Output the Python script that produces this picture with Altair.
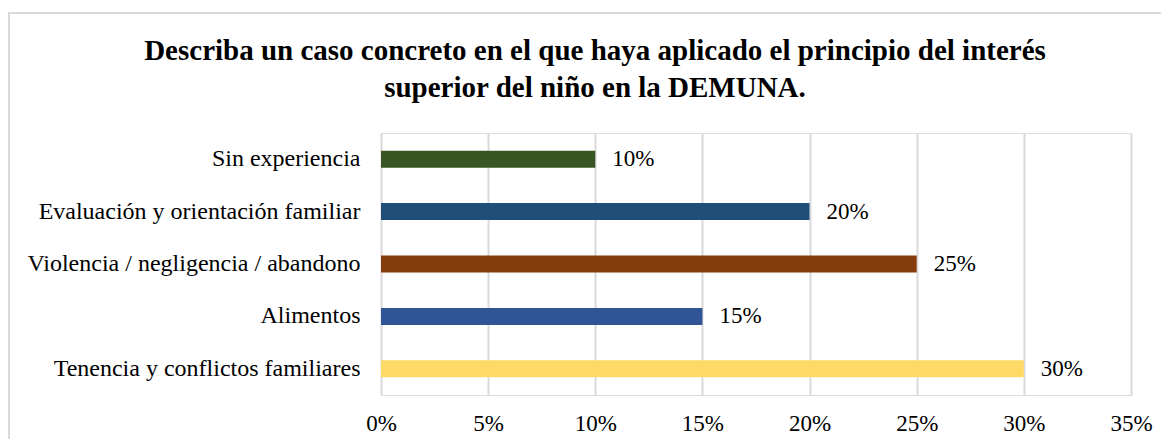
import altair as alt
import pandas as pd

categories = [
    "Sin experiencia",
    "Evaluación y orientación familiar",
    "Violencia / negligencia / abandono",
    "Alimentos",
    "Tenencia y conflictos familiares",
]
values = [0.10, 0.20, 0.25, 0.15, 0.30]
colors = ["#375623", "#1F4E79", "#843C0C", "#2F5597", "#FFD966"]
x_ticks = [0, 0.05, 0.10, 0.15, 0.20, 0.25, 0.30, 0.35]
title_lines = [
    "Describa un caso concreto en el que haya aplicado el principio del interés",
    "superior del niño en la DEMUNA.",
]

FONT = "Liberation Serif"
TITLE_FONT = "Liberation Serif, Times New Roman, serif"

df = pd.DataFrame({"categoria": categories, "valor": values, "color": colors})

base = alt.Chart(df)

y_enc = alt.Y(
    "categoria:N",
    sort=categories,
    title=None,
    scale=alt.Scale(paddingInner=0, paddingOuter=0),
    axis=alt.Axis(
        labelFont=FONT,
        labelFontSize=24,
        labelColor="#000000",
        ticks=False,
        domain=False,
        grid=False,
        labelPadding=21,
        labelLimit=400,
    ),
)
x_enc = alt.X(
    "valor:Q",
    title=None,
    scale=alt.Scale(domain=[0, 0.35], nice=False, zero=True),
    axis=alt.Axis(
        values=x_ticks,
        format=".0%",
        labelFont=FONT,
        labelFontSize=23,
        labelColor="#000000",
        labelFlush=False,
        ticks=False,
        domain=False,
        grid=True,
        gridColor="#d9d9d9",
        gridWidth=2,
        labelPadding=17,
    ),
)

bars = base.mark_bar(size=17).encode(
    x=x_enc,
    y=y_enc,
    color=alt.Color("color:N", scale=None, legend=None),
)

labels = base.mark_text(
    align="left", baseline="middle", dx=17, font=FONT, fontSize=23, color="#000000"
).encode(
    x=alt.X("valor:Q"),
    y=alt.Y("categoria:N", sort=categories),
    text=alt.Text("valor:Q", format=".0%"),
)

border = alt.Chart(alt.Data(values=[{"a": 1}])).mark_rect(
    fill=None, stroke="#d9d9d9", strokeWidth=2
).encode(
    x=alt.value(-372),
    x2=alt.value(820),
    y=alt.value(-120),
    y2=alt.value(330),
)

chart = (
    alt.layer(border, bars, labels)
    .properties(
        width=750,
        height=262,
        title=alt.Title(
            text=title_lines,
            font=TITLE_FONT,
            fontSize=29,
            fontWeight="bold",
            color="#000000",
            anchor="middle",
            frame="group",
            dx=-161,
            offset=-91,
            lineHeight=37,
        ),
        autosize=alt.AutoSizeParams(type="none"),
        padding={"left": 373, "top": 125, "right": 30, "bottom": 44},
    )
    .configure_view(stroke=None)
    .configure(background="white")
)

chart.save("out.html", embed_options={"renderer": "svg", "actions": False})
